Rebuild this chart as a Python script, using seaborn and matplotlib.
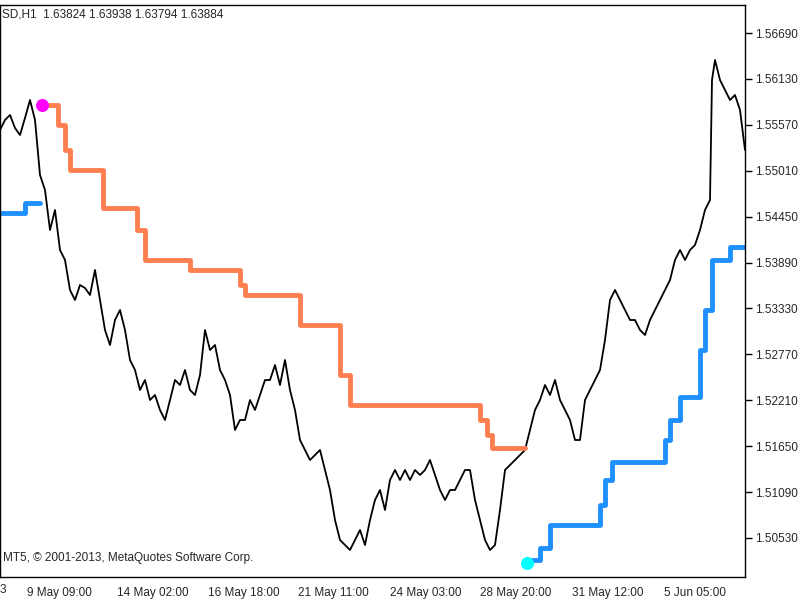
import numpy as np
import pandas as pd
import matplotlib
matplotlib.use("Agg")
import matplotlib.pyplot as plt
import seaborn as sns

# scale: price = P0 - K * chart_row  (readings taken in chart rows)
P0, K = 1.570926, 0.000122

close_x = [0,5,10,15,20,25,30,35,40,45,50,55,60,65,70,75,80,85,90,95,100,105,110,115,120,125,130,135,140,145,150,155,160,165,170,175,180,185,190,195,200,205,210,215,220,225,230,235,240,245,250,255,260,265,270,275,280,285,290,295,300,305,310,315,320,325,330,335,340,345,350,355,360,365,370,375,380,385,390,395,400,405,410,415,420,425,430,435,440,445,450,455,460,465,470,475,480,485,490,495,500,505,510,515,520,525,530,535,540,545,550,555,560,565,570,575,580,585,590,595,600,605,610,615,620,625,630,635,640,645,650,655,660,665,670,675,680,685,690,695,700,705,710,712,715,720,725,730,735,740,745]
close_row = [130,120,115,128,135,118,100,120,175,190,230,210,250,260,290,300,285,288,295,270,300,330,345,320,310,330,360,370,390,380,400,395,410,420,400,380,385,370,390,395,375,330,350,345,370,380,395,430,420,420,400,410,395,380,380,365,385,360,390,410,440,450,460,455,450,470,490,520,540,545,550,540,530,545,520,500,490,510,480,470,480,470,480,470,475,470,460,475,490,500,490,490,480,470,470,500,520,540,550,545,510,470,465,460,455,450,430,410,400,385,395,380,400,410,420,440,440,400,390,380,370,340,300,290,300,310,320,320,330,335,320,310,300,290,280,260,250,260,250,245,230,210,200,80,60,80,90,100,95,110,150]
up_x = [42,55,58,65,70,100,103,130,137,145,185,190,230,240,245,295,300,325,340,350,475,480,487,492,525]
up_row = [105,105,125,150,170,170,208,208,230,260,260,270,270,285,295,295,325,325,375,405,405,420,435,448,448]
lo1_x = [0,25,40]
lo1_row = [213,203,203]
lo2_x = [527,530,540,550,595,600,605,612,660,665,670,680,695,700,705,712,728,730,745]
lo2_row = [563,560,548,525,525,505,480,462,462,440,420,397,397,350,310,260,260,247,247]
tick_x = [27,117,208,298,390,480,572,664]
tick_labels = ["9 May 09:00","14 May 02:00","16 May 18:00","21 May 11:00","24 May 03:00","28 May 20:00","31 May 12:00","5 Jun 05:00"]
y_ticks = [1.56690,1.56130,1.55570,1.55010,1.54450,1.53890,1.53330,1.52770,1.52210,1.51650,1.51090,1.50530]

def pr(r): return P0 - K*np.asarray(r, float)

sns.set_style("white")
plt.rcParams['font.family'] = ['Liberation Sans', 'DejaVu Sans']
FS = 8.5
fig = plt.figure(figsize=(8,6), dpi=100)
ax = fig.add_axes([0.0, 23/600, 745/800, 572/600])

sns.lineplot(x=close_x, y=pr(close_row), color="black", lw=1.3, ax=ax, estimator=None)
ax.step(up_x, pr(up_row), where="post", color="#FF7F50", lw=3.5)
ax.step(lo1_x, pr(lo1_row), where="post", color="#1E90FF", lw=3.5)
ax.step(lo2_x, pr(lo2_row), where="post", color="#1E90FF", lw=3.5)
ax.scatter([42], pr([105]), color="#FF00FF", s=70, zorder=5)
ax.scatter([527], pr([563]), color="#00FFFF", s=70, zorder=5)

ax.set_xlim(0, 745)
ax.set_ylim(pr(577), pr(5))
ax.yaxis.tick_right()
ax.set_yticks(y_ticks)
ax.set_yticklabels([f"{v:.5f}" for v in y_ticks], fontsize=FS)
ax.set_xticks(tick_x)
ax.set_xticklabels(tick_labels, fontsize=FS, ha="left")
ax.tick_params(axis="both", direction="out", length=5, width=1, color="black", pad=2)
for s in ax.spines.values():
    s.set_color("black"); s.set_linewidth(1)
ax.text(3, pr(558), "MT5, © 2001-2013, MetaQuotes Software Corp.", fontsize=FS, va="center")
ax.text(2, pr(14), "SD,H1  1.63824 1.63938 1.63794 1.63884", fontsize=FS, va="center")
fig.text(0.0, 10/600, "3", fontsize=FS, va="center")
fig.savefig("out.png", dpi=100)
